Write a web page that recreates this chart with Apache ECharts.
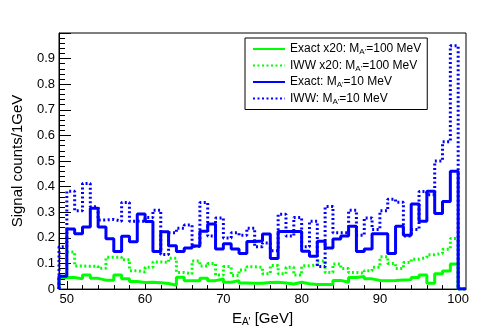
<!DOCTYPE html>
<html>
<head>
<meta charset="utf-8">
<script src="https://cdn.jsdelivr.net/npm/echarts@6/dist/echarts.min.js"></script>
<style>
    html, body { margin: 0; padding: 0; background: #fff; }
    #chart { width: 491px; height: 332px; }
</style>
</head>
<body>
<div id="chart"></div>
<script>
// bin edges in GeV (1 GeV bins, axis runs 49..101)
const binEdges = [49, 50, 51, 52, 53, 54, 55, 56, 57, 58, 59, 60, 61, 62, 63, 64, 65, 66, 67, 68, 69, 70,
    71, 72, 73, 74, 75, 76, 77, 78, 79, 80, 81, 82, 83, 84, 85, 86, 87, 88, 89, 90, 91, 92, 93, 94, 95, 96,
    97, 98, 99, 100, 101]
const xMajorTicks = [50, 60, 70, 80, 90, 100]
const xMinorTicks = [50, 52, 54, 56, 58, 60, 62, 64, 66, 68, 70, 72, 74, 76, 78, 80, 82, 84, 86, 88, 90,
    92, 94, 96, 98, 100]

// signal counts per bin, 49-50 ... 99-100
const exact100x20 = [0.045, 0.045, 0.04, 0.055, 0.042, 0.035, 0.035, 0.055, 0.04, 0.03, 0.026, 0.027, 0.025,
    0.022, 0.015, 0.046, 0.033, 0.033, 0.042, 0.033, 0.04, 0.027, 0.033, 0.024, 0.023, 0.023, 0.026, 0.027,
    0.024, 0.02, 0.027, 0.021, 0.018, 0.018, 0.018, 0.034, 0.027, 0.045, 0.049, 0.04, 0.034, 0.033, 0.034,
    0.036, 0.037, 0.045, 0.055, 0.023, 0.06, 0.071, 0.098]
const iww100x20 = [0.05, 0.145, 0.09, 0.089, 0.089, 0.081, 0.124, 0.124, 0.115, 0.072, 0.067, 0.085, 0.106,
    0.104, 0.12, 0.065, 0.06, 0.11, 0.09, 0.1, 0.055, 0.088, 0.053, 0.075, 0.087, 0.085, 0.06, 0.092, 0.06,
    0.085, 0.055, 0.091, 0.095, 0.11, 0.065, 0.098, 0.08, 0.065, 0.062, 0.072, 0.085, 0.126, 0.1, 0.08,
    0.104, 0.117, 0.124, 0.134, 0.14, 0.156, 0.198]
const exact10 = [0.05, 0.235, 0.216, 0.242, 0.316, 0.242, 0.197, 0.147, 0.206, 0.185, 0.293, 0.264, 0.147,
    0.224, 0.169, 0.147, 0.16, 0.168, 0.226, 0.254, 0.157, 0.177, 0.157, 0.139, 0.186, 0.188, 0.215, 0.119,
    0.225, 0.225, 0.225, 0.148, 0.128, 0.187, 0.16, 0.196, 0.207, 0.245, 0.147, 0.157, 0.216, 0.216, 0.139,
    0.245, 0.21, 0.332, 0.265, 0.382, 0.295, 0.342, 0.46]
const iww10 = [0.165, 0.382, 0.306, 0.412, 0.322, 0.27, 0.272, 0.265, 0.338, 0.265, 0.265, 0.28, 0.308,
    0.135, 0.22, 0.238, 0.25, 0.167, 0.338, 0.207, 0.278, 0.2, 0.22, 0.21, 0.238, 0.165, 0.18, 0.15, 0.292,
    0.207, 0.28, 0.165, 0.265, 0.088, 0.323, 0.22, 0.22, 0.308, 0.21, 0.278, 0.233, 0.306, 0.351, 0.339,
    0.207, 0.233, 0.381, 0.368, 0.5, 0.575, 0.95]

const FONT = 'Liberation Sans, Arial, sans-serif'
const GREEN = '#00ff00'
const BLUE = '#0000ff'
const DOTS = [2, 2.5]

// histogram outline as step points: rise at first edge, drop after last bin, empty last bin
function histPoints(vals) {
    let pts = [[binEdges[0], 0]]
    vals.map((v, i) => {
        pts.push([binEdges[i], v])
    })
    pts.push([binEdges[vals.length], 0])
    pts.push([binEdges[vals.length + 1], 0])
    return pts
}

function histSeries(name, vals, color, type) {
    return {
        name: name,
        type: 'line',
        step: 'end',
        data: histPoints(vals),
        symbol: 'none',
        showSymbol: false,
        lineStyle: { color: color, width: 3, type: type, cap: 'butt' },
        itemStyle: { color: color },
        emphasis: { disabled: true },
    }
}

const chart = echarts.init(document.getElementById('chart'))

const option = {
    animation: false,
    backgroundColor: '#fff',
    textStyle: { fontFamily: FONT },
    grid: {
        left: 59, right: 25, top: 33, bottom: 40,
        show: true, borderColor: '#000', borderWidth: 1,
    },
    legend: {
        orient: 'vertical',
        left: 245, top: 38,
        padding: [4, 6, 4, 7],
        itemWidth: 32, itemHeight: 14, itemGap: 2.5,
        backgroundColor: '#fff',
        borderColor: '#000', borderWidth: 1,
        // hide the marker, keep only the line sample
        itemStyle: { color: 'rgba(0,0,0,0)', borderWidth: 0, opacity: 0 },
        data: ["Exact x20: M_A'=100 MeV", "IWW x20: M_A'=100 MeV", "Exact: M_A'=10 MeV", "IWW: M_A'=10 MeV"],
        formatter: name => name.replace("M_A'", "M{sub|A'}"),
        textStyle: {
            fontFamily: FONT, fontSize: 12, color: '#000', lineHeight: 14,
            rich: {
                sub: { fontFamily: FONT, fontSize: 8, lineHeight: 8, verticalAlign: 'bottom', color: '#000' },
            },
        },
    },
    xAxis: [{
        type: 'value',
        min: 49, max: 101,
        name: "E{sub|A'} [GeV]",
        nameLocation: 'middle',
        nameGap: 3,
        nameTextStyle: {
            fontFamily: FONT, fontSize: 15, color: '#000', lineHeight: 16,
            rich: {
                sub: { fontFamily: FONT, fontSize: 10, lineHeight: 10, verticalAlign: 'bottom', color: '#000' },
            },
        },
        axisLine: { lineStyle: { color: '#000', width: 1 } },
        axisTick: { inside: true, length: 8, customValues: xMajorTicks, lineStyle: { color: '#000' } },
        axisLabel: { customValues: xMajorTicks, fontFamily: FONT, fontSize: 13, color: '#000', margin: 4 },
        splitLine: { show: false },
    }, {
        type: 'value',
        min: 49, max: 101,
        position: 'bottom',
        axisLine: { show: false },
        axisTick: { inside: true, length: 4, customValues: xMinorTicks, lineStyle: { color: '#000' } },
        axisLabel: { show: false },
        splitLine: { show: false },
    }],
    yAxis: {
        type: 'value',
        min: 0, max: 1, interval: 0.1,
        name: 'Signal counts/1GeV',
        nameLocation: 'middle',
        nameGap: 34,
        nameTextStyle: { fontFamily: FONT, fontSize: 15, color: '#000' },
        axisLine: { show: true, lineStyle: { color: '#000', width: 1 } },
        axisTick: { inside: true, length: 12, lineStyle: { color: '#000' } },
        minorTick: { show: true, splitNumber: 5, length: 6, lineStyle: { color: '#000' } },
        axisLabel: {
            fontFamily: FONT, fontSize: 13, color: '#000', margin: 4,
            formatter: v => (v >= 1 ? '' : String(+v.toFixed(1))),
        },
        splitLine: { show: false },
    },
    series: [
        histSeries("Exact x20: M_A'=100 MeV", exact100x20, GREEN, 'solid'),
        histSeries("IWW x20: M_A'=100 MeV", iww100x20, GREEN, DOTS),
        histSeries("IWW: M_A'=10 MeV", iww10, BLUE, DOTS),
        histSeries("Exact: M_A'=10 MeV", exact10, BLUE, 'solid'),
    ],
}

chart.setOption(option)
</script>
</body>
</html>
